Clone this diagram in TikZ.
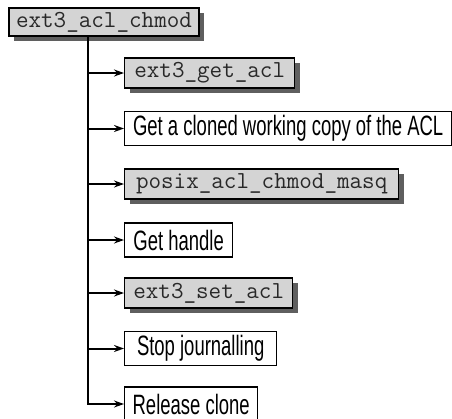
\documentclass[tikz,border=0pt]{standalone}
\usepackage{fontspec}
\setmainfont{Liberation Sans}
\newfontfamily\narrowsans[FakeStretch=0.66]{Liberation Sans}
\usetikzlibrary{arrows.meta,shadows}
\definecolor{boxgray}{RGB}{212,212,212}
\definecolor{shadowgray}{RGB}{95,95,95}
\definecolor{codetext}{RGB}{40,40,40}
\tikzset{
  codebox/.style={draw=black, line width=0.7pt, fill=boxgray, inner sep=0pt,
    minimum height=15pt, text=codetext, font=\ttfamily\fontsize{12.2}{13}\selectfont,
    general shadow={fill=shadowgray, shadow xshift=2.5pt, shadow yshift=-2.5pt}},
  textbox/.style={draw=black, line width=0.7pt, fill=white, inner sep=0pt,
    minimum height=17pt, font=\narrowsans\fontsize{14}{16}\selectfont},
  branch/.style={line width=1pt, -{Stealth[length=5pt,width=3.5pt]}},
}
\begin{document}
\begin{tikzpicture}[x=0.5pt,y=-0.5pt]
\useasboundingbox (0,0) rectangle (452,419);
\node[codebox, minimum width=95pt, minimum height=14pt] (root) at (104,22) {ext3\_acl\_chmod};
\coordinate (trunk) at (88,0);
\node[codebox, anchor=west, minimum width=85pt] (getacl) at (124,73) {ext3\_get\_acl};
\node[textbox, anchor=west, minimum width=163.5pt] (clone) at (124,128.5) {Get a cloned working copy of the ACL};
\node[codebox, anchor=west, minimum width=137pt] (posix) at (124,184) {posix\_acl\_chmod\_masq};
\node[textbox, anchor=west, minimum width=54pt] (handle) at (124,240) {Get handle};
\node[codebox, anchor=west, minimum width=84pt] (setacl) at (124,293) {ext3\_set\_acl};
\node[textbox, anchor=west, minimum width=76pt] (stop) at (124,348.5) {Stop journalling};
\node[textbox, anchor=west, minimum width=66.5pt] (release) at (124,404) {Release clone};
\draw[branch] (trunk |- root.south) |- (release.west);
\foreach \n in {getacl,clone,posix,handle,setacl,stop}
  \draw[branch] (trunk |- \n.west) -- (\n.west);
\end{tikzpicture}
\end{document}
